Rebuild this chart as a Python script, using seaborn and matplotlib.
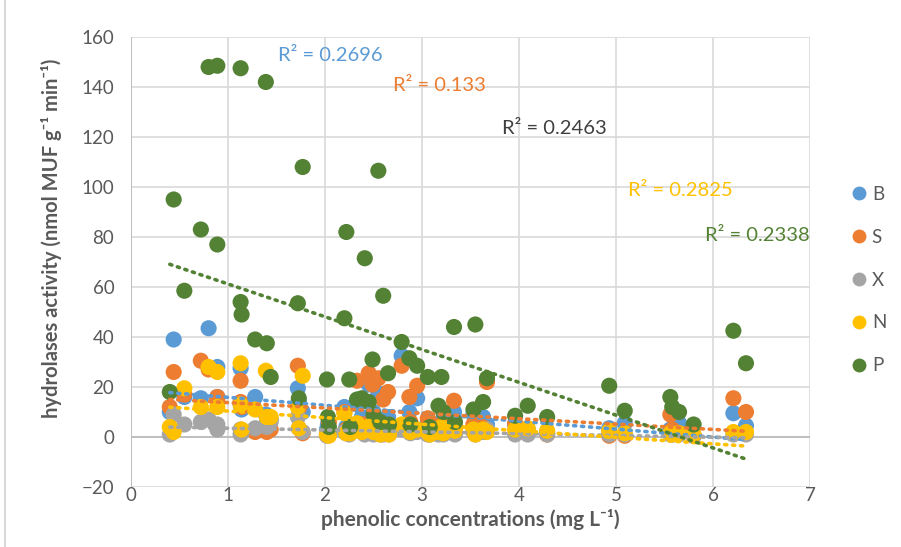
import numpy as np
import pandas as pd
import matplotlib
matplotlib.use("Agg")
import matplotlib.pyplot as plt
import seaborn as sns
from matplotlib.patches import Rectangle
from matplotlib.lines import Line2D

# ---- data ----
phenolic = [0.40, 0.44, 0.55, 0.72, 0.80, 0.89, 0.89, 1.13, 1.13, 1.14,
            1.28, 1.39, 1.40, 1.44, 1.72, 1.73, 1.77, 2.02, 2.03, 2.04,
            2.20, 2.22, 2.25, 2.26, 2.33, 2.38, 2.41, 2.45, 2.49, 2.50,
            2.55, 2.57, 2.60, 2.65, 2.66, 2.79, 2.87, 2.88, 2.95, 3.06,
            3.08, 3.17, 3.20, 3.22, 3.33, 3.34, 3.53, 3.55, 3.63, 3.67,
            3.96, 4.09, 4.29, 4.93, 5.09, 5.56, 5.58, 5.65, 5.80, 6.21, 6.34]
B = [10, 39, 16, 15.5, 43.5, 28, 16, 27.5, 13, 11,
     16, 9, 8.5, 7, 19.5, 14, 10, 3, 5, 2,
     12, 4, 3, 5, 13, 8, 6, 21, 21.5, 10,
     17.5, 6, 5, 8, 4, 32.5, 10, 5, 15.5, 6,
     4, 5, 6, 3, 10, 4, 9, 7, 8, 5,
     5, 3, 2, 3.5, 5.5, 3, 1, 5.5, 0.5, 9.5, 4.5]
S = [12, 26, 17, 30.5, 27, 16, 15, 22.5, 14, 12,
     2, 2.5, 2, 3, 28.5, 11.5, 1.5, 1, 2, 6,
     10, 3, 2, 4, 22.5, 5, 5, 25.5, 21, 4,
     23.5, 4, 15, 18, 3, 28.5, 16, 6, 20.5, 7.5,
     3, 4, 5, 3, 14.5, 4, 5, 1.5, 4, 22,
     5.5, 2, 1, 0.5, 0.5, 9, 3, 1.5, 0.5, 15.5, 10]
X = [1, 9, 5, 6, 7, 5, 3, 1, 3, 2,
     3.5, 5, 4, 6, 8, 3.5, 2, 0.5, 1, 1,
     2, 1.5, 1, 2, 3, 2, 1, 2, 3, 1,
     2, 1, 1, 2, 1, 3, 2, 1.5, 2, 1,
     1, 1, 2, 1, 2, 1, 2, 1, 2, 3,
     1, 1, 1, 1, 1, 1, 1, 1, 0.5, 1, 1]
N = [4, 2, 19.5, 12, 28, 26, 12, 29.5, 13, 3,
     11, 26.5, 8, 8, 12, 3.5, 24.5, 1, 2, 0.5,
     9.5, 1.5, 2, 1.5, 5.5, 2, 3, 4, 5.5, 2,
     3, 1, 2, 4, 1, 5, 3, 2, 3, 2,
     1, 2, 4, 1.5, 3, 2.5, 3, 1, 3, 2,
     3, 3.5, 2.5, 2.5, 1.5, 1.5, 1, 1.5, 1, 2, 2]
P = [18, 95, 58.5, 83, 148, 148.5, 77, 147.5, 54, 49,
     39, 142, 37.5, 24, 53.5, 15.5, 108, 23, 8, 4,
     47.5, 82, 23, 4, 15, 15.5, 71.5, 14, 31, 9,
     106.5, 6, 56.5, 25.5, 5, 38, 31.5, 5, 28.5, 24,
     4, 12.5, 24, 10, 44, 6, 11, 45, 14, 23.5,
     8.5, 12.5, 8, 20.5, 10.5, 16, 12, 10, 5, 42.5, 29.5]

series = ["B", "S", "X", "N", "P"]
values = [B, S, X, N, P]
r2_labels = ["R² = 0.2696", "R² = 0.133", "R² = 0.2463", "R² = 0.2825", "R² = 0.2338"]
colors = ["#5B9BD5", "#ED7D31", "#A5A5A5", "#FFC000", "#548235"]
r2_colors = ["#5B9BD5", "#ED7D31", "#404040", "#FFC000", "#548235"]
r2_pos = [(1.52, 152.5), (2.70, 140.5), (3.82, 123.5), (5.12, 98.5), (5.92, 80.5)]

df = pd.concat([pd.DataFrame({"x": phenolic, "y": v, "series": s})
                for s, v in zip(series, values)], ignore_index=True)

sns.set_theme(style="white")
plt.rcParams["font.family"] = ["Lato", "DejaVu Sans"]
text_col = "#595959"

fig = plt.figure(figsize=(9.01, 5.47), dpi=100)
ax = fig.add_axes([131/901, 1-487/547, (810-131)/901, (487-37)/547])

palette = dict(zip(series, colors))
sns.scatterplot(data=df, x="x", y="y", hue="series", palette=palette,
                s=135, linewidth=0, alpha=1, ax=ax, legend=False, zorder=3)
for s, c in zip(series, colors):
    sub = df[df.series == s]
    sns.regplot(data=sub, x="x", y="y", scatter=False, ci=None, truncate=True,
                ax=ax, line_kws=dict(color=c, linestyle=(0, (0.6, 1.6)),
                                     linewidth=2.6, zorder=5,
                                     dash_capstyle="round"))

for lab, c, (px, py) in zip(r2_labels, r2_colors, r2_pos):
    ax.text(px, py, lab, color=c, fontsize=14.5, va="center", ha="left", zorder=6)

ax.set_xlim(0, 7)
ax.set_ylim(-20, 160)
ax.set_xticks(range(0, 8))
ax.set_yticks(range(-20, 161, 20))
ax.grid(True, color="#d9d9d9", linewidth=1.2)
ax.set_axisbelow(True)
for sp in ax.spines.values():
    sp.set_visible(False)
ax.axhline(0, color="#bfbfbf", linewidth=1.4, zorder=1)
ax.axvline(0, color="#bfbfbf", linewidth=1.4, zorder=1)
ax.tick_params(axis="both", length=0, labelsize=13.5, labelcolor=text_col)
ax.tick_params(axis="x", pad=0)
ax.tick_params(axis="y", pad=12)
ax.set_xlabel("")
ax.set_ylabel("")

fig.text((305+635)/2/901, 1-519/547, "phenolic concentrations (mg L⁻¹)",
         ha="center", va="center", fontsize=15, fontweight="bold", color=text_col)
fig.text(52/901, 1-238/547, "hydrolases activity (nmol MUF g⁻¹ min⁻¹)",
         ha="center", va="center", rotation=90, fontsize=14.5, fontweight="bold",
         color=text_col)

# legend
handles = [Line2D([], [], marker="o", linestyle="", markersize=10,
                  markerfacecolor=c, markeredgewidth=0) for c in colors]
leg = fig.legend(handles, series, loc="center left",
                 bbox_to_anchor=(838/901, 1-280/547), frameon=False,
                 labelspacing=1.38, handletextpad=0.1, fontsize=13.5,
                 handlelength=1.2, borderpad=0)
for t in leg.get_texts():
    t.set_color(text_col)

fig.patches.append(Rectangle((5/901, -0.01), 1.2, 1.2, transform=fig.transFigure,
                             fill=False, edgecolor="#d9d9d9", linewidth=1.5))

fig.savefig("out.png", dpi=100)
